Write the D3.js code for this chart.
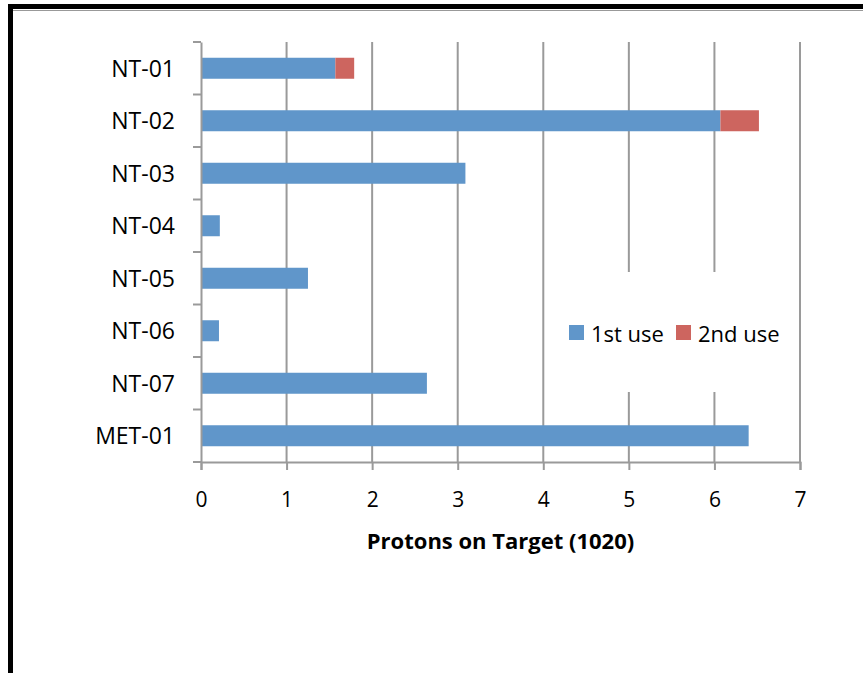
<!DOCTYPE html>
<html>
<head>
<meta charset="utf-8">
<script src="https://cdn.jsdelivr.net/npm/d3@7"></script>
<style>
  body { margin: 0; background: #fff; }
  svg text { font-family: "Open Sans", sans-serif; fill: #000; }
</style>
</head>
<body>
<div id="container"></div>
<script>
///data
const targets = ["NT-01", "NT-02", "NT-03", "NT-04", "NT-05", "NT-06", "NT-07", "MET-01"];
const firstUse = [1.57, 6.07, 3.09, 0.22, 1.25, 0.21, 2.64, 6.40];
const secondUse = [0.22, 0.45, 0, 0, 0, 0, 0, 0];
const xTicks = [0, 1, 2, 3, 4, 5, 6, 7];
const seriesNames = ["1st use", "2nd use"];
const seriesColors = ["#6096ca", "#cd655f"];

///size
let w = 863,
h = 673;

let svg = d3.select("#container").
append("svg").
attr("width", w).
attr("height", h);

///frame
svg.append("line").attr("x1", 8).attr("x2", w + 5).attr("y1", 10.5).attr("y2", 10.5).
style("stroke", "#999").style("stroke-width", 1);
svg.append("rect").
attr("x", 10.5).
attr("y", 6.5).
attr("width", w + 20).
attr("height", h + 20).
style("fill", "none").
style("stroke", "#000").
style("stroke-width", 5);

///scales
let xScale = d3.scaleLinear().domain([0, 7]).range([201, 800]);
let yScale = d3.scaleBand().
domain(targets).
range([42, 462]).
paddingInner(0.6).
paddingOuter(0.3);

///gridlines
svg.append("g").
attr("class", "grid").
selectAll("line").
data(xTicks.slice(1)).
enter().
append("line").
attr("x1", d => xScale(d)).
attr("x2", d => xScale(d)).
attr("y1", 42).
attr("y2", 462).
style("stroke", "#9a9a9a").
style("stroke-width", 2);

///bars
const rows = targets.map((t, i) => ({ name: t, a: firstUse[i], b: secondUse[i] }));
svg.append("g").selectAll("rect").
data(rows).
enter().
append("rect").
attr("x", xScale(0)).
attr("y", d => yScale(d.name)).
attr("width", d => xScale(d.a) - xScale(0)).
attr("height", yScale.bandwidth()).
style("fill", seriesColors[0]);

svg.append("g").selectAll("rect").
data(rows.filter(d => d.b > 0)).
enter().
append("rect").
attr("x", d => xScale(d.a)).
attr("y", d => yScale(d.name)).
attr("width", d => xScale(d.a + d.b) - xScale(d.a)).
attr("height", yScale.bandwidth()).
style("fill", seriesColors[1]);

///x axis
let xAxis = d3.axisBottom(xScale).tickValues(xTicks).tickSize(8).tickPadding(22).tickFormat(d3.format("d"));
let xg = svg.append("g").
attr("transform", "translate(0,462)").
call(xAxis);
xg.select(".domain").style("stroke", "#9a9a9a").style("stroke-width", 2);
xg.selectAll(".tick line").style("stroke", "#9a9a9a").style("stroke-width", 2);
xg.selectAll("text").style("font-size", "21px");

///y axis
let yAxis = d3.axisLeft(yScale).tickSize(0).tickPadding(26);
let yg = svg.append("g").
attr("transform", "translate(201,0)").
call(yAxis);
yg.select(".domain").style("stroke", "#9a9a9a").style("stroke-width", 2);
yg.selectAll("text").style("font-size", "23px").attr("dy", "0.36em");

// ticks between categories
const bounds = targets.map(t => yScale(t) + yScale.bandwidth() / 2 - yScale.step() / 2);
bounds.push(462);
yg.selectAll(".bound").
data(bounds).
enter().
append("line").
attr("class", "bound").
attr("x1", -8).
attr("x2", 0).
attr("y1", d => d).
attr("y2", d => d).
style("stroke", "#9a9a9a").
style("stroke-width", 2);

///axis title
svg.append("text").
attr("x", xScale(3.5)).
attr("y", 549).
attr("text-anchor", "middle").
style("font-size", "22px").
style("font-weight", "bold").
text("Protons on Target (1020)");

///legend
const legend = svg.append("g").attr("transform", "translate(562,272)");
legend.append("rect").
attr("width", 230).
attr("height", 120).
style("fill", "#fff");

const items = legend.selectAll("g").
data(seriesNames).
enter().
append("g").
attr("transform", (d, i) => "translate(" + (7 + i * 107) + ",53)");
items.append("rect").
attr("width", 15).
attr("height", 15).
style("fill", (d, i) => seriesColors[i]);
items.append("text").
attr("x", 22).
attr("y", 17).
style("font-size", "22px").
text(d => d);
</script>
</body>
</html>
